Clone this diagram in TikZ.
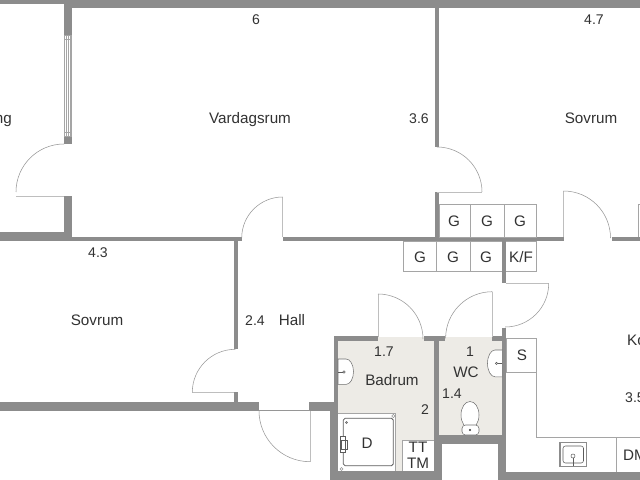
\documentclass[tikz,border=0pt]{standalone}
\usepackage{fontspec}
\setmainfont{Liberation Sans}
\definecolor{wallgray}{RGB}{140, 140, 140}
\definecolor{floorbeige}{RGB}{237, 235, 230}
\definecolor{linegray}{RGB}{165, 165, 165}
\definecolor{doorgray}{RGB}{150, 150, 150}
\definecolor{leafgray}{RGB}{190, 190, 190}
\definecolor{textdark}{RGB}{50, 50, 50}

\begin{document}
\begin{tikzpicture}[
    x=0.03cm, y=-0.03cm,
    wall/.style={fill=wallgray, draw=none},
    floorarea/.style={fill=floorbeige, draw=none},
    door/.style={draw=doorgray, line width=0.45pt},
    leaf/.style={draw=leafgray, line width=0.8pt},
    cabinet/.style={draw=linegray, line width=0.45pt},
    fixture/.style={draw=doorgray, fill=white, line width=0.45pt},
    dark/.style={draw=textdark!80, line width=0.45pt},
    label/.style={font=\fontsize{13}{13}\selectfont, text=textdark, inner sep=0pt, text height=9.4pt, text depth=0pt},
    dim/.style={label, font=\fontsize{12}{12}\selectfont, text height=8.7pt},
]
\clip (0, 0) rectangle (640, 480);
\fill[white] (0, 0) rectangle (640, 480);

% Wet room floors
\fill[floorarea] (338, 337) rectangle (434, 471);
\fill[floorarea] (438, 337) rectangle (502, 435);

% Outer and top walls
\fill[wall] (0, 0) rectangle (72, 4);
\fill[wall] (64, 0) rectangle (640, 8);
\fill[wall] (64, 0) rectangle (72, 35);
\fill[wall] (64, 136) rectangle (72, 144);
\fill[wall] (64, 196) rectangle (72, 241);
\fill[wall] (0, 232) rectangle (72, 241);

% Wall under the living room
\fill[wall] (72, 236.7) rectangle (241.7, 241);
\fill[wall] (282.7, 236.7) rectangle (563.5, 241);
\fill[wall] (611.5, 236.7) rectangle (640, 241);
\fill[wall] (435, 8) rectangle (439, 147);
\fill[wall] (435, 192) rectangle (439, 237);

% Hall walls
\fill[wall] (234, 241) rectangle (238, 349.3);
\fill[wall] (234, 392.3) rectangle (238, 402);
\fill[wall] (0, 401.7) rectangle (259.3, 411);
\fill[wall] (309, 401.7) rectangle (338, 411);
\fill[wall] (502.3, 241) rectangle (506, 283.3);
\fill[wall] (502.3, 328) rectangle (506, 471);

% Bathroom and WC walls
\fill[wall] (334, 336) rectangle (378, 340.7);
\fill[wall] (424, 336) rectangle (445, 340.7);
\fill[wall] (492.3, 336) rectangle (506, 340.7);
\fill[wall] (334, 336) rectangle (338, 402);
\fill[wall] (330, 402) rectangle (338, 480);
\fill[wall] (330, 471) rectangle (442, 480);
\fill[wall] (434, 337) rectangle (438.7, 435);
\fill[wall] (434, 435) rectangle (506, 443.7);
\fill[wall] (434, 435) rectangle (442.3, 480);
\fill[wall] (497.7, 435) rectangle (506, 480);
\fill[wall] (497.7, 471.5) rectangle (640, 480);

% Window
\draw[cabinet] (64.3, 35) rectangle (71.7, 136);
\draw[cabinet] (66.2, 35) -- (66.2, 136);
\draw[cabinet] (68, 35) -- (68, 136);
\draw[cabinet] (69.8, 35) -- (69.8, 136);
\draw[cabinet] (64.3, 39) -- (71.7, 39);
\draw[cabinet] (64.3, 132) -- (71.7, 132);

% Doors
\draw[leaf] (64, 196) -- (16, 196);
\draw[door] (64, 144) arc (-90:-180:48);
\draw[leaf] (437, 192) -- (481.7, 192);
\draw[door] (437, 147) arc (-90:0:45);
\draw[leaf] (282.7, 237) -- (282.7, 197);
\draw[door] (282.7, 197) arc (-90:-180:41);
\draw[leaf] (563.5, 237) -- (563.5, 191);
\draw[door] (563.5, 191) arc (-90:0:47);
\draw[leaf] (506, 283.5) -- (548.7, 283.5);
\draw[door] (548.7, 283.5) arc (0:90:43.5);
\draw[leaf] (492.3, 337) -- (492.3, 291.7);
\draw[door] (492.3, 291.7) arc (-90:-180:46.7);
\draw[leaf] (378, 337) -- (378, 294);
\draw[door] (378, 294) arc (-90:0:45);
\draw[leaf] (234, 392.3) -- (192.3, 392.3);
\draw[door] (192.3, 392.3) arc (180:270:43);
\draw[leaf] (310, 411) -- (310, 461.7);
\draw[door] (259.3, 410.5) -- (310, 410.5);
\draw[door] (310, 461.7) arc (90:180:51);

% Cabinets
\draw[cabinet] (439, 204.3) rectangle (536.7, 237);
\draw[cabinet] (470.7, 204.3) -- (470.7, 237);
\draw[cabinet] (504.3, 204.3) -- (504.3, 237);
\draw[cabinet] (640, 204.3) -- (638.5, 204.3) -- (638.5, 237);
\draw[cabinet] (403.3, 241) rectangle (536.7, 271.5);
\draw[cabinet] (436.3, 241) -- (436.3, 271.5);
\draw[cabinet] (470.7, 241) -- (470.7, 271.5);
\draw[cabinet] (506, 338.3) rectangle (536.7, 372.3);
\draw[cabinet] (536.7, 372.3) -- (536.7, 437.7) -- (640, 437.7);
\draw[cabinet] (616.7, 437.7) -- (616.7, 471.5);

% Redraw the stub wall over the cabinet frame
\fill[wall] (502.3, 241) rectangle (506, 283.3);

% Bathroom sink
\fill[white, draw=textdark!70, line width=0.45pt] (338, 359) -- (346, 359) arc (-90:90:7.5 and 12.7) -- (338, 384.4) -- cycle;
\draw[dark] (338, 372) -- (343, 372);
\draw[dark] (344, 372) circle (1.2);

% WC sink
\fill[white, draw=textdark!70, line width=0.45pt] (502.3, 350) -- (495, 350) arc (-90:-270:7.5 and 13.4) -- (502.3, 376.8) -- cycle;
\draw[dark] (502.3, 363.4) -- (497.5, 363.4);
\draw[dark] (496.5, 363.4) circle (1.2);

% Toilet
\draw[fixture, draw=textdark!70] (470, 415) ellipse (9 and 13.5);
\draw[fixture, draw=textdark!70, rounded corners=3pt] (462, 425) rectangle (479, 435);
\fill[textdark] (470, 430) circle (1.1);

% Shower
\fill[white] (338, 413.3) rectangle (395, 470.5);
\draw[cabinet] (338, 413.3) -- (395, 413.3) -- (395, 470.5);
\draw[dark, rounded corners=1.5pt, line width=0.7pt] (343.3, 418.3) rectangle (393.3, 465.7);
\draw[fixture] (393.3, 416) circle (1.6);
\draw[fixture] (341.5, 469) circle (1.6);
\draw[dark] (346.5, 422.5) circle (1);
\draw[dark, fill=white] (340, 436) rectangle (345, 452);
\draw[dark] (341, 440) rectangle (347, 449);

% TT/TM cabinet
\fill[white] (402.3, 440) rectangle (434, 471);
\draw[cabinet] (402.3, 471) -- (402.3, 440) -- (434, 440);

% Kitchen sink
\draw[wallgray, line width=1.5pt] (560, 442.5) rectangle (586.5, 466.5);
\draw[dark, rounded corners=2pt] (563, 446) rectangle (583.5, 463);
\draw[dark] (573, 456) circle (2);
\draw[dark, line width=0.7pt] (573, 458) -- (573, 466);

% Dimensions
\node[dim] (dimliving) at (256, 19) {6};
\node[dim] (dimbedtop) at (594, 19) {4.7};
\node[dim] (dimlivingb) at (419, 118) {3.6};
\node[dim] (dimbedleft) at (98, 252) {4.3};
\node[dim] (dimhall) at (255, 320) {2.4};
\node[dim] (dimbatha) at (384, 351) {1.7};
\node[dim] (dimbathb) at (425, 409) {2};
\node[dim] (dimwca) at (470, 351) {1};
\node[dim] (dimwcb) at (452, 393) {1.4};
\node[dim, anchor=west] (dimkitchen) at (625, 397) {3.5};

% Rooms
\node[label, anchor=east] (roomleft) at (12, 118) {ng};
\node[label] (vardagsrum) at (250, 118) {Vardagsrum};
\node[label] (sovrumright) at (591, 118) {Sovrum};
\node[label] (sovrumleft) at (97, 320) {Sovrum};
\node[label] (hall) at (292, 320) {Hall};
\node[label] (badrum) at (392, 380) {Badrum};
\node[label] (wc) at (466, 372) {WC};
\node[label, anchor=west] (kitchen) at (627, 340) {Ko};

% Fittings
\node[label] (g1) at (454, 221) {G};
\node[label] (g2) at (487, 221) {G};
\node[label] (g3) at (520, 221) {G};
\node[label] (g4) at (420, 257) {G};
\node[label] (g5) at (453, 257) {G};
\node[label] (g6) at (486, 257) {G};
\node[label] (kf) at (521, 257) {K/F};
\node[label] (shelf) at (522, 355) {S};
\node[label] (shower) at (367, 443) {D};
\node[label] (tt) at (418, 447) {TT};
\node[label] (tm) at (418, 463) {TM};
\node[label, anchor=west] (dm) at (623, 455) {DM};

\end{tikzpicture}
\end{document}
